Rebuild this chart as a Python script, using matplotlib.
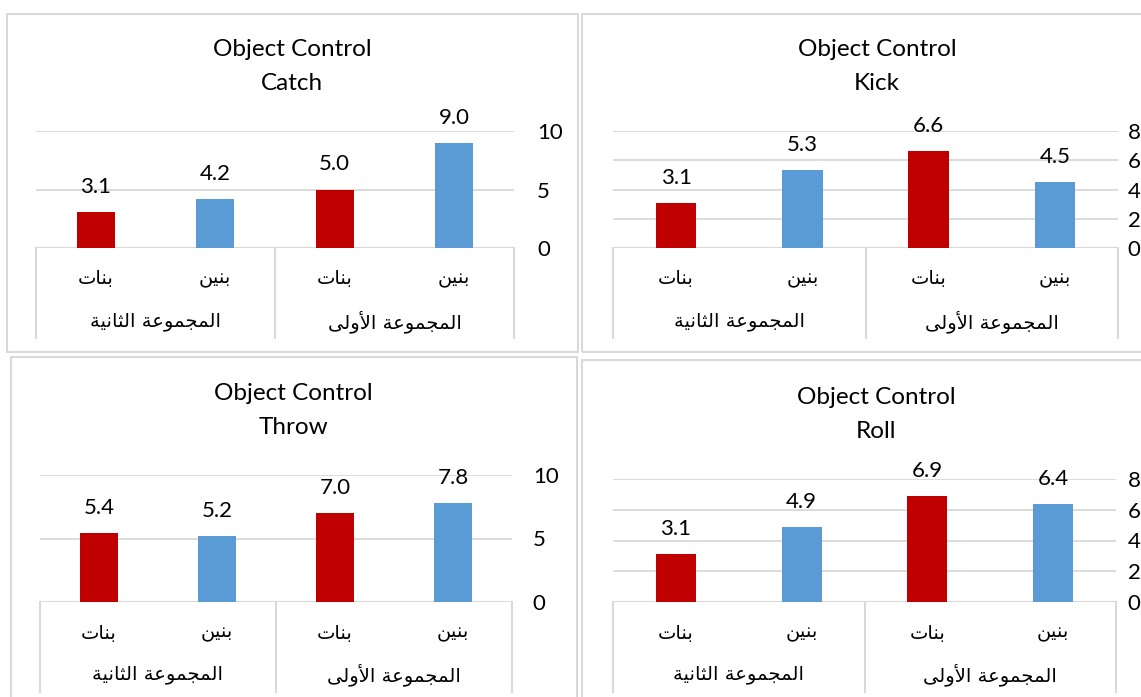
import matplotlib
matplotlib.use("Agg")
import matplotlib.pyplot as plt
from matplotlib.patches import Rectangle
from matplotlib.transforms import blended_transform_factory

# --- data ---
sub_labels = ["بنات", "بنين", "بنات", "بنين"]
group_labels = ["المجموعة الثانية", "المجموعة الأولى"]
titles = ["Catch", "Kick", "Throw", "Roll"]
catch = [3.1, 4.2, 5.0, 9.0]
kick = [3.1, 5.3, 6.6, 4.5]
throw = [5.4, 5.2, 7.0, 7.8]
roll = [3.1, 4.9, 6.9, 6.4]
yticks_catch = [0, 5, 10]
yticks_kick = [0, 2, 4, 6, 8]
yticks_throw = [0, 5, 10]
yticks_roll = [0, 2, 4, 6, 8]

RED = "#C00000"
BLUE = "#5B9BD5"
GRID = "#D9D9D9"
W, H = 1141, 697

# minimal arabic shaping (matplotlib has no complex text layout)
FORMS = {
    "ا": ("\uFE8D", "\uFE8E", None, None),
    "أ": ("\uFE83", "\uFE84", None, None),
    "ب": ("\uFE8F", "\uFE90", "\uFE91", "\uFE92"),
    "ت": ("\uFE95", "\uFE96", "\uFE97", "\uFE98"),
    "ث": ("\uFE99", "\uFE9A", "\uFE9B", "\uFE9C"),
    "ج": ("\uFE9D", "\uFE9E", "\uFE9F", "\uFEA0"),
    "ع": ("\uFEC9", "\uFECA", "\uFECB", "\uFECC"),
    "ل": ("\uFEDD", "\uFEDE", "\uFEDF", "\uFEE0"),
    "م": ("\uFEE1", "\uFEE2", "\uFEE3", "\uFEE4"),
    "ن": ("\uFEE5", "\uFEE6", "\uFEE7", "\uFEE8"),
    "و": ("\uFEED", "\uFEEE", None, None),
    "ة": ("\uFE93", "\uFE94", None, None),
    "ى": ("\uFEEF", "\uFEF0", None, None),
    "ي": ("\uFEF1", "\uFEF2", "\uFEF3", "\uFEF4"),
}
LAM_ALEF = {"أ": ("\uFEF7", "\uFEF8"), "ا": ("\uFEFB", "\uFEFC")}


def shape_ar(text):
    out = []
    prev_joins = False
    i = 0
    while i < len(text):
        c = text[i]
        if c not in FORMS:
            out.append(c)
            prev_joins = False
            i += 1
            continue
        if c == "ل" and i + 1 < len(text) and text[i + 1] in LAM_ALEF:
            iso, fin = LAM_ALEF[text[i + 1]]
            out.append(fin if prev_joins else iso)
            prev_joins = False
            i += 2
            continue
        iso, fin, ini, med = FORMS[c]
        nxt = text[i + 1] if i + 1 < len(text) else None
        next_joins = ini is not None and nxt in FORMS
        if prev_joins and next_joins:
            f = med
        elif prev_joins:
            f = fin
        elif next_joins:
            f = ini
        else:
            f = iso
        out.append(f)
        prev_joins = ini is not None
        i += 1
    return "".join(reversed(out))


plt.rcParams["font.family"] = ["Lato", "DejaVu Sans"]
fig = plt.figure(figsize=(W / 100, H / 100), dpi=100)


def fy(py):
    return 1 - py / H


def panel(values, yticks, name, box, plot, title_pos, lab_y, line_bottom, pad):
    bx0, by0, bx1, by1 = box
    fig.patches.append(Rectangle((bx0 / W, fy(by1)), (bx1 - bx0) / W, (by1 - by0) / H,
                                 transform=fig.transFigure, fill=False,
                                 edgecolor=GRID, lw=1.5))
    x0, ytop, x1, ybot = plot
    ax = fig.add_axes([x0 / W, fy(ybot), (x1 - x0) / W, (ybot - ytop) / H])
    xs = range(len(values))
    colors = [RED, BLUE, RED, BLUE]
    ax.bar(xs, values, width=0.32, color=colors, zorder=3)
    for x, v in zip(xs, values):
        ax.annotate(f"{v:.1f}", (x, v), xytext=(0, 18), textcoords="offset points",
                    ha="center", va="center", fontsize=16, color="#000000")
    ax.set_xlim(-0.5, 3.5)
    ax.set_ylim(0, yticks[-1])
    ax.set_yticks(yticks)
    ax.yaxis.tick_right()
    ax.tick_params(axis="y", length=0, pad=pad, labelsize=16)
    ax.set_xticks([])
    ax.grid(axis="y", color=GRID, lw=1.3, zorder=0)
    for s in ax.spines.values():
        s.set_visible(False)
    ax.axhline(0, color=GRID, lw=1.5, zorder=2)

    tr = blended_transform_factory(ax.transData, fig.transFigure)
    for xv in [-0.5, 1.5, 3.5]:
        ax.plot([xv, xv], [fy(ybot), fy(line_bottom)], color=GRID, lw=1.5,
                transform=tr, clip_on=False)
    for x, lab in zip(xs, sub_labels):
        ax.text(x, fy(lab_y[0]), shape_ar(lab), transform=tr, ha="center",
                va="center", fontsize=14, family="DejaVu Sans")
    for x, lab in zip([0.5, 2.5], group_labels):
        ax.text(x, fy(lab_y[1]), shape_ar(lab), transform=tr, ha="center",
                va="center", fontsize=14, family="DejaVu Sans")

    tx, ty1, ty2 = title_pos
    fig.text(tx / W, fy(ty1), "Object Control", ha="center", va="center",
             fontsize=17.5)
    fig.text(tx / W, fy(ty2), name, ha="center", va="center", fontsize=17.5)
    return ax


panel(catch, yticks_catch, titles[0], (7, 14, 578, 352), (36, 131, 514, 248),
      (292, 50, 83), (278, 322), 338, 16.5)
panel(kick, yticks_kick, titles[1], (582, 14, 1150, 352), (613, 131, 1118, 248),
      (877, 50, 83), (278, 322), 338, 7)
panel(throw, yticks_throw, titles[2], (11, 357, 577, 710), (40, 475, 512, 602),
      (293, 393, 427), (633, 675), 692, 15)
panel(roll, yticks_roll, titles[3], (582, 360, 1150, 710), (613, 479, 1116, 602),
      (876, 398, 431), (633, 675), 692, 8.5)

fig.savefig("out.png", dpi=100)
